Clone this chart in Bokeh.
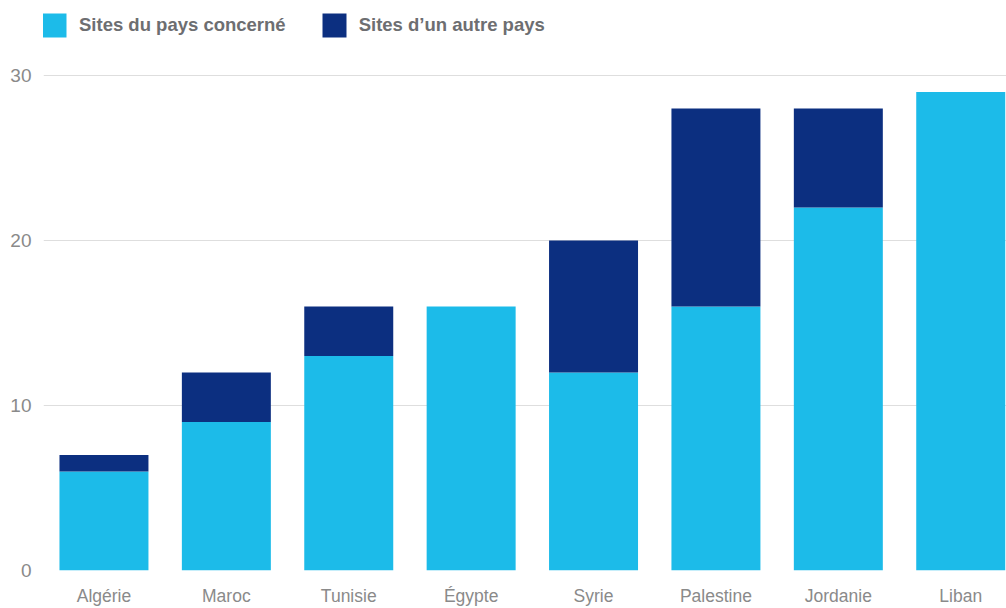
from bokeh.plotting import figure
from bokeh.models import Range1d, Legend, LegendItem, FixedTicker, ColumnDataSource
from bokeh.embed import file_html
from bokeh.resources import INLINE

countries = ["Algérie", "Maroc", "Tunisie", "Égypte", "Syrie", "Palestine", "Jordanie", "Liban"]
local_sites = [6, 9, 13, 16, 12, 16, 22, 29]
other_sites = [1, 3, 3, 0, 8, 12, 6, 0]
series_names = ["Sites du pays concerné", "Sites d\u2019un autre pays"]
colors = ["#1cbbe9", "#0c2f80"]
y_ticks = [0, 10, 20, 30]

src = ColumnDataSource(dict(x=list(range(len(countries))), local=local_sites, other=other_sites))

p = figure(width=1006, height=608, output_backend="svg", toolbar_location=None,
           x_range=Range1d(-0.494, 7.374), y_range=Range1d(0, 34.545),
           min_border_left=43, min_border_right=0, min_border_top=0, min_border_bottom=38)
p.outline_line_color = None

rs = p.vbar_stack(["local", "other"], x="x", width=0.727, source=src, color=colors, line_color=None)

# axes
p.xaxis.ticker = FixedTicker(ticks=list(range(len(countries))))
p.xaxis.major_label_overrides = {i: c for i, c in enumerate(countries)}
p.yaxis.ticker = FixedTicker(ticks=y_ticks)
for ax in (p.xaxis[0], p.yaxis[0]):
    ax.axis_line_color = None
    ax.major_tick_line_color = None
    ax.minor_tick_line_color = None
    ax.major_tick_out = 0
    ax.major_tick_in = 0
    ax.major_label_text_font = "Liberation Sans"
    ax.major_label_text_color = "#8a8a8a"
p.xaxis.major_label_text_font_size = "17.5px"
p.yaxis.major_label_text_font_size = "19px"
p.xaxis.major_label_standoff = 15
p.yaxis.major_label_standoff = 12

p.xgrid.grid_line_color = None
p.ygrid.ticker = FixedTicker(ticks=y_ticks)
p.ygrid.grid_line_color = "#dedede"
p.ygrid.grid_line_width = 1

legend = Legend(items=[LegendItem(label=series_names[i], renderers=[rs[i]]) for i in range(2)],
                orientation="horizontal", location=(-4, 530),
                glyph_width=30, glyph_height=30, label_standoff=10, spacing=33,
                padding=0, margin=0, border_line_color=None, background_fill_alpha=0,
                label_text_font="Liberation Sans", label_text_font_size="18.5px",
                label_text_font_style="bold", label_text_color="#6d6e71")
p.add_layout(legend, "center")

open("out.html", "w").write(file_html(p, INLINE))
